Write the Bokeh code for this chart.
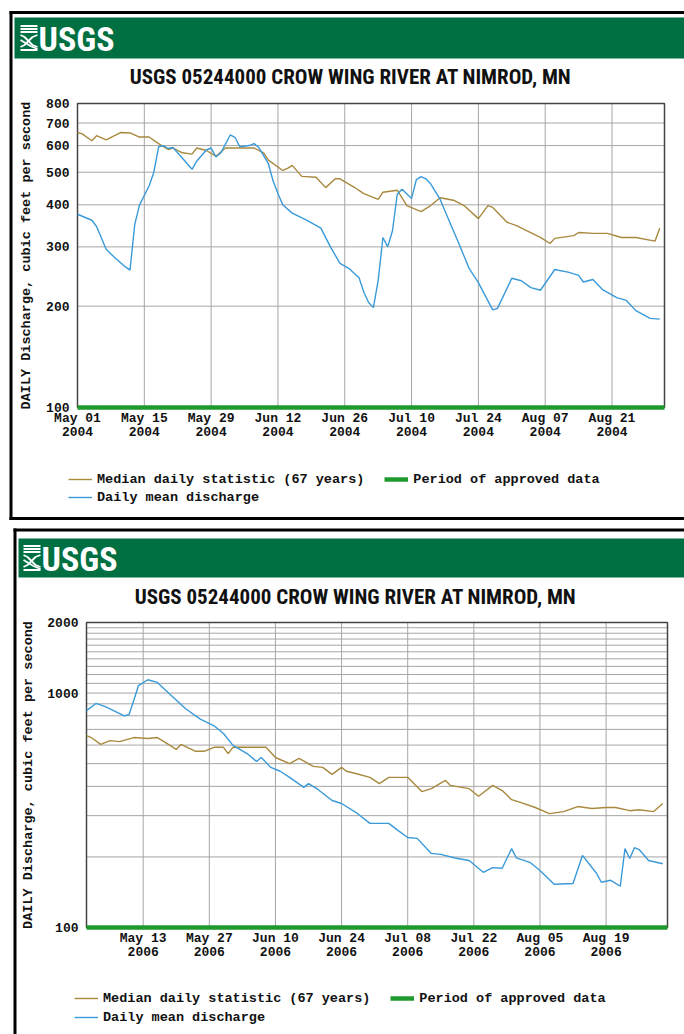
import math
from datetime import datetime, timedelta
from bokeh.plotting import figure
from bokeh.models import (Range1d, FixedTicker, DatetimeTickFormatter, DatetimeAxis,
                          LogAxis, LogScale, PrintfTickFormatter, Legend, LegendItem)
from bokeh.embed import file_html
from bokeh.resources import INLINE
from bokeh.core.properties import value

# ---------------- data ----------------
SITE_TITLE = "USGS 05244000 CROW WING RIVER AT NIMROD, MN"
AGENCY = "USGS"
Y_LABEL = "DAILY Discharge, cubic feet per second"
LBL_MEDIAN = "Median daily statistic (67 years)"
LBL_APPROVED = "Period of approved data"
LBL_MEAN = "Daily mean discharge"

# 2004 panel (day offsets from May 01 2004)
q04_day = [0, 3, 4, 6, 8, 10, 11, 12, 13, 15, 16, 17, 18, 19, 20, 22, 24, 25, 27, 28,
           29, 30, 32, 33, 34, 36, 37, 38, 40, 41, 42, 43, 45, 48, 51, 53, 55, 57, 59, 60,
           61, 62, 63, 64, 65, 66, 67, 68, 70, 71, 72, 73, 74, 76, 78, 80, 82, 84, 87, 88,
           91, 93, 95, 97, 99, 100, 103, 105, 106, 108, 110, 113, 115, 117, 120, 122]
q04_cfs = [375, 360, 345, 295, 277, 262, 256, 350, 400, 455, 500, 595, 600, 588, 592, 550, 510, 540, 582, 590,
           555, 570, 645, 635, 595, 600, 608, 592, 530, 470, 432, 400, 378, 360, 341, 300, 268, 258, 243, 220,
           205, 198, 238, 320, 300, 335, 430, 445, 418, 475, 485, 478, 462, 415, 355, 305, 260, 235, 195, 197,
           242, 238, 227, 223, 245, 257, 252, 247, 236, 240, 224, 212, 208, 194, 184, 183]
med04_day = [0, 1, 3, 4, 6, 9, 11, 13, 15, 17, 19, 20, 22, 24, 25, 27, 29, 31, 34, 37,
             39, 40, 43, 44, 45, 47, 50, 52, 54, 55, 58, 60, 63, 64, 67, 69, 72, 74, 76, 79,
             81, 84, 86, 87, 90, 92, 94, 97, 99, 100, 104, 105, 108, 111, 114, 117, 121, 122]
med04_cfs = [656, 650, 620, 642, 624, 656, 654, 636, 636, 608, 584, 590, 571, 566, 590, 580, 558, 590, 590, 590,
             571, 543, 506, 513, 524, 486, 483, 450, 478, 478, 451, 432, 415, 436, 442, 398, 382, 398, 420, 412,
             398, 364, 398, 393, 355, 347, 336, 320, 307, 318, 324, 331, 329, 329, 320, 320, 312, 341]
ticks04 = ["2004-05-01", "2004-05-15", "2004-05-29", "2004-06-12", "2004-06-26",
           "2004-07-10", "2004-07-24", "2004-08-07", "2004-08-21"]
yticks04 = [100, 200, 300, 400, 500, 600, 700, 800]
ygrid04 = [200, 300, 400, 500, 600, 700]
period04 = ["2004-05-01", "2004-09-01"]

# 2006 panel (day offsets from May 01 2006)
q06_day = [0, 2, 4, 8, 9, 10, 11, 13, 15, 18, 21, 24, 27, 29, 31, 34, 36, 37, 39, 41,
           43, 46, 47, 49, 52, 54, 57, 60, 64, 66, 68, 70, 73, 75, 78, 81, 84, 86, 88, 90,
           91, 94, 96, 99, 103, 105, 108, 109, 111, 113, 114, 115, 116, 117, 119, 122]
q06_cfs = [842, 903, 875, 800, 808, 930, 1075, 1140, 1110, 975, 857, 776, 725, 672, 598, 552, 511, 531, 482, 464,
           437, 396, 411, 388, 348, 338, 310, 278, 278, 259, 242, 240, 207, 205, 198, 193, 172, 180, 179, 217,
           198, 189, 175, 153, 154, 203, 170, 156, 159, 150, 217, 197, 219, 215, 193, 187]
med06_day = [0, 1, 3, 5, 7, 10, 13, 15, 17, 19, 20, 23, 25, 27, 29, 30, 31, 35, 38, 40,
             43, 45, 48, 50, 52, 54, 55, 57, 60, 62, 64, 68, 71, 73, 76, 77, 81, 83, 86, 88,
             90, 92, 95, 98, 101, 104, 107, 110, 112, 115, 117, 120, 122]
med06_cfs = [659, 646, 604, 627, 621, 646, 640, 646, 610, 575, 604, 565, 565, 587, 587, 552, 587, 587, 587, 531,
             500, 526, 487, 482, 450, 482, 464, 454, 437, 411, 437, 437, 380, 391, 424, 404, 391, 363, 404, 384,
             351, 341, 325, 306, 312, 328, 322, 325, 325, 315, 318, 312, 338]
ticks06 = ["2006-05-13", "2006-05-27", "2006-06-10", "2006-06-24",
           "2006-07-08", "2006-07-22", "2006-08-05", "2006-08-19"]
yticks06 = [100, 1000, 2000]
ygrid06 = [200, 300, 400, 500, 600, 700, 800, 900, 1000,
           1100, 1200, 1300, 1400, 1500, 1600, 1700, 1800, 1900]
period06 = ["2006-05-01", "2006-09-01"]

# ---------------- styling / page geometry ----------------
W, H = 684, 1034
HEAD_GREEN = "#006f41"
APPROVED_GREEN = "#1f9a2e"
MEDIAN_COLOR = "#a8893e"
MEAN_COLOR = "#3a9ad9"
GRID_COLOR = "#a6a6a6"
TEXT_COLOR = "#111111"
MONO = "Liberation Mono"
NARROW = "Roboto Condensed"
EPOCH = datetime(1970, 1, 1)


def d(s):
    return datetime.strptime(s, "%Y-%m-%d")


def ms(dt):
    return (dt - EPOCH).total_seconds() * 1000.0


p = figure(width=W, height=H, x_range=Range1d(0, W), y_range=Range1d(H, 0),
           x_axis_location=None, y_axis_location=None, toolbar_location=None,
           min_border=0, output_backend="svg")
p.xgrid.visible = False
p.ygrid.visible = False
p.outline_line_color = None
p.background_fill_color = "white"
p.border_fill_color = "white"


def vline(x, y0, y1, w=3):
    p.segment(x0=[x], y0=[y0], x1=[x], y1=[y1], line_width=w, line_color="black")


def hline(y, x0, x1, w=3):
    p.segment(x0=[x0], y0=[y], x1=[x1], y1=[y], line_width=w, line_color="black")


def header(bar_left, bar_top, bar_bottom, logo_x, title_x, title_y):
    p.quad(left=[bar_left], right=[W + 10], top=[bar_top], bottom=[bar_bottom],
           fill_color=HEAD_GREEN, line_color=None)
    yc = (bar_top + bar_bottom) / 2.0
    xs, ys = [], []
    for dy in (-12, -9, -6):
        xs.append([logo_x, logo_x + 17]); ys.append([yc + dy, yc + dy])
    xs.append([logo_x, logo_x + 4, logo_x + 8, logo_x + 12, logo_x + 17])
    ys.append([yc - 3, yc - 1, yc + 3, yc + 7, yc + 9])
    xs.append([logo_x, logo_x + 4, logo_x + 8, logo_x + 12, logo_x + 17])
    ys.append([yc + 9, yc + 7, yc + 3, yc - 1, yc - 3])
    xs.append([logo_x, logo_x + 5, logo_x + 10, logo_x + 17])
    ys.append([yc + 2, yc + 5, yc + 8, yc + 11])
    xs.append([logo_x, logo_x + 17]); ys.append([yc + 12, yc + 12])
    p.multi_line(xs=xs, ys=ys, line_color="white", line_width=1.8)
    p.text(x=[logo_x + 18], y=[yc + 1], text=[AGENCY], text_color="white",
           text_font=value(NARROW), text_font_style="bold", text_font_size="34px",
           text_align="left", text_baseline="middle")
    p.text(x=[title_x], y=[title_y], text=[SITE_TITLE], text_color=TEXT_COLOR,
           text_font=value(NARROW), text_font_style="bold", text_font_size="21px",
           text_align="center", text_baseline="middle")


def chart(key, box, start, end, ymin, ymax, yticks, ygrid, xticks, period,
          med_day, med_cfs, q_day, q_cfs, label_standoff, leg_x, leg_y1, leg_y2):
    left_px, right_px, top_px, bottom_px = box
    s, e = d(start), d(end)
    span = (e - s).total_seconds()
    xw = right_px - left_px
    x0 = s - timedelta(seconds=span * left_px / xw)
    x1 = s + timedelta(seconds=span * (W - left_px) / xw)
    lmin, lmax = math.log10(ymin), math.log10(ymax)
    per_px = (lmax - lmin) / (bottom_px - top_px)
    y_lo = 10 ** (lmin - (H - bottom_px) * per_px)
    y_hi = 10 ** (lmax + top_px * per_px)
    xn, yn = "x" + key, "y" + key
    p.extra_x_ranges = {**p.extra_x_ranges, xn: Range1d(x0, x1)}
    p.extra_y_ranges = {**p.extra_y_ranges, yn: Range1d(y_lo, y_hi)}
    p.extra_y_scales = {**p.extra_y_scales, yn: LogScale()}
    kw = dict(x_range_name=xn, y_range_name=yn)

    tick_dates = [d(t) for t in xticks]
    n = len(tick_dates)
    p.segment(x0=tick_dates, y0=[ymin] * n, x1=tick_dates, y1=[ymax] * n,
              line_color=GRID_COLOR, line_width=1, **kw)
    m = len(ygrid)
    p.segment(x0=[s] * m, y0=ygrid, x1=[e] * m, y1=ygrid,
              line_color=GRID_COLOR, line_width=1, **kw)
    p.quad(left=[s], right=[e], bottom=[ymin], top=[ymax], fill_color=None,
           line_color="#444444", line_width=1.5, **kw)

    r_app = p.line(x=[d(t) for t in period], y=[ymin, ymin], line_width=4.5,
                   line_color=APPROVED_GREEN, **kw)
    r_med = p.line(x=[s + timedelta(days=k) for k in med_day], y=med_cfs,
                   line_color=MEDIAN_COLOR, line_width=1.4, **kw)
    r_q = p.line(x=[s + timedelta(days=k) for k in q_day], y=q_cfs,
                 line_color=MEAN_COLOR, line_width=1.4, **kw)

    fmt = "%b %d\n%Y"
    xax = DatetimeAxis(x_range_name=xn, fixed_location=bottom_px, bounds=(ms(s), ms(e)),
                       ticker=FixedTicker(ticks=[ms(t) for t in tick_dates]),
                       formatter=DatetimeTickFormatter(
                           microseconds=fmt, milliseconds=fmt, seconds=fmt, minsec=fmt,
                           minutes=fmt, hourmin=fmt, hours=fmt, days=fmt, months=fmt,
                           years=fmt))
    yax = LogAxis(y_range_name=yn, fixed_location=left_px, bounds=(ymin, ymax),
                  ticker=FixedTicker(ticks=yticks, minor_ticks=[]),
                  formatter=PrintfTickFormatter(format="%d"), axis_label=Y_LABEL)
    for ax in (xax, yax):
        ax.axis_line_color = None
        ax.major_tick_line_color = None
        ax.minor_tick_line_color = None
        ax.major_tick_out = 0
        ax.major_tick_in = 0
        ax.minor_tick_out = 0
        ax.minor_tick_in = 0
        ax.major_label_text_font = MONO
        ax.major_label_text_font_style = "bold"
        ax.major_label_text_font_size = "13px"
        ax.major_label_text_color = TEXT_COLOR
    xax.major_label_standoff = 3
    xax.major_label_text_line_height = 0.95
    yax.major_label_standoff = 8
    yax.axis_label_text_font = MONO
    yax.axis_label_text_font_style = "bold"
    yax.axis_label_text_font_size = "13.5px"
    yax.axis_label_text_color = TEXT_COLOR
    yax.axis_label_standoff = label_standoff
    p.add_layout(xax, "below")
    p.add_layout(yax, "left")

    common = dict(padding=0, margin=0, spacing=20, glyph_width=24, glyph_height=16,
                  label_height=16, label_standoff=5, border_line_color=None,
                  background_fill_alpha=0, label_text_font=MONO,
                  label_text_font_style="bold", label_text_font_size="13.5px",
                  label_text_color=TEXT_COLOR, orientation="horizontal")
    leg_a = Legend(items=[LegendItem(label=LBL_MEDIAN, renderers=[r_med]),
                          LegendItem(label=LBL_APPROVED, renderers=[r_app])],
                   location=(leg_x, H - leg_y1 - 16), **common)
    leg_b = Legend(items=[LegendItem(label=LBL_MEAN, renderers=[r_q])],
                   location=(leg_x, H - leg_y2 - 16), **common)
    p.add_layout(leg_a)
    p.add_layout(leg_b)


# ---------------- panel 1 (2004) ----------------
hline(12, 9, W + 10)
vline(10.5, 10.5, 519.5)
header(14, 17, 58, 20, 350, 76)
chart("04", (77, 664, 103, 407), "2004-05-01", "2004-09-01", 100, 800,
      yticks04, ygrid04, ticks04, period04, med04_day, med04_cfs, q04_day, q04_cfs,
      9, 68, 471, 489)
hline(518, 9, W + 10)

# ---------------- panel 2 (2006) ----------------
hline(529.5, 13, W + 10)
vline(14.5, 528, H + 10)
header(18, 538, 577, 23, 355, 596)
chart("06", (86, 667, 622, 927), "2006-05-01", "2006-09-01", 100, 2000,
      yticks06, ygrid06, ticks06, period06, med06_day, med06_cfs, q06_day, q06_cfs,
      8, 74, 990, 1009)

open("out.html", "w").write(file_html(p, INLINE))
